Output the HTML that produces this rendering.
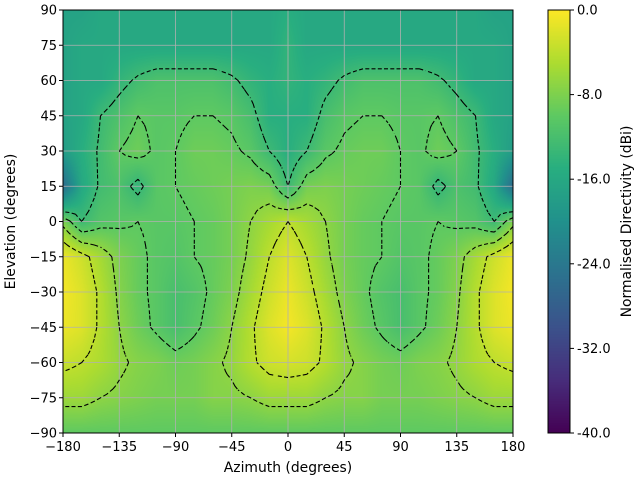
<!DOCTYPE html>
<html><head><meta charset="utf-8"><style>
body{margin:0;background:#fff;font-family:"DejaVu Sans","Liberation Sans",sans-serif}
#wrap{position:relative;width:640px;height:480px}
canvas,svg{position:absolute;left:0;top:0}
</style></head><body>
<div id="wrap">
<canvas id="heat" width="640" height="480"></canvas>
<svg id="ax" width="640" height="480"></svg>
</div>
<script>
// elevation rows (90 .. -90 step 15), azimuth |az| columns 0..180 step 15 (mirrored for negative az)
const elevations=[90,75,60,45,30,15,0,-15,-30,-45,-60,-75,-90];
const absAzimuths=[0,15,30,45,60,75,90,105,120,135,150,165,180];
const row90=[-15,-16,-16,-16,-16,-16,-16,-16,-16,-16,-16,-17,-17];
const row75=[-14,-16,-16,-16,-16,-16,-16,-16,-16,-16,-16,-16,-17];
const row60=[-14,-15,-14,-12.5,-11.5,-11.5,-11.5,-11.5,-12.5,-14,-16,-16,-17];
const row45=[-15,-15,-12,-10.5,-10,-10,-10.5,-10.5,-10,-11.5,-13,-16,-17];
const row30=[-15,-13,-10.5,-9.5,-9,-9,-10,-10.5,-9,-10,-12.5,-15,-18];
const row15=[-13,-8.5,-8,-8.5,-9,-9.5,-10,-10.5,-14,-11.5,-12.5,-16,-26];
const row0=[-4,-5.5,-7,-8.5,-9.5,-10,-10.5,-10.5,-10,-10.5,-11,-13,-8];
const rowM15=[-2,-4,-6.5,-8.5,-9.5,-10,-11,-10.5,-9.5,-8,-5.5,-3,-1];
const rowM30=[-1,-3,-5.5,-8,-9.5,-11,-12,-10.5,-9.5,-7.5,-4.5,-2,-0.5];
const rowM45=[-0.5,-2,-4.5,-7,-9,-10.5,-12,-10.5,-9,-7,-4.5,-2,-1];
const rowM60=[-2.5,-3,-4.5,-6.5,-7.5,-8.5,-9,-8,-7.5,-6.5,-5,-4,-3.3];
const rowM75=[-6,-6,-7,-7.5,-7.5,-8.5,-8.5,-8.5,-8,-7.5,-7,-6,-6];
const rowM90=[-10,-10,-10,-10,-10,-10,-10,-10,-10,-10,-10,-10,-10];
const halfRows=[row90,row75,row60,row45,row30,row15,row0,rowM15,rowM30,rowM45,rowM60,rowM75,rowM90];
const contourLevels=[-13,-10,-7,-4];
const xTicks=[-180,-135,-90,-45,0,45,90,135,180];
const yTicks=[-90,-75,-60,-45,-30,-15,0,15,30,45,60,75,90];
const cbTicks=[0,-8,-16,-24,-32,-40];

const X0=63,X1=513,Y0=10,Y1=433,CBX=548,CBW=22;
const vMin=-40,vMax=0;
const xs=a=>X0+(a+180)/360*(X1-X0);
const ys=e=>Y0+(90-e)/180*(Y1-Y0);
const cbY=v=>Y0+(vMax-v)/(vMax-vMin)*(Y1-Y0);

const az=[];for(let i=absAzimuths.length-1;i>0;i--)az.push(-absAzimuths[i]);for(const a of absAzimuths)az.push(a);
const grid=halfRows.map(r=>{const o=[];for(let i=r.length-1;i>0;i--)o.push(r[i]);for(const v of r)o.push(v);return o;});

const vir=[[68,1,84],[71,45,123],[59,82,139],[44,114,142],[33,145,140],[40,174,128],[94,201,98],[173,220,48],[253,231,37]];
function cmap(v){let t=(v-vMin)/(vMax-vMin);t=Math.max(0,Math.min(1,t))*8;const i=Math.min(7,Math.floor(t)),f=t-i;
 return vir[i].map((c,k)=>Math.round(c+(vir[i+1][k]-c)*f));}
function sample(a,e){
 let fi=(a-az[0])/15,fj=(90-e)/15;fi=Math.max(0,Math.min(az.length-1.0001,fi));fj=Math.max(0,Math.min(elevations.length-1.0001,fj));
 const i=Math.floor(fi),j=Math.floor(fj),u=fi-i,w=fj-j;
 return grid[j][i]*(1-u)*(1-w)+grid[j][i+1]*u*(1-w)+grid[j+1][i]*(1-u)*w+grid[j+1][i+1]*u*w;}

const cv=document.getElementById('heat'),ctx=cv.getContext('2d');
const img=ctx.createImageData(X1-X0,Y1-Y0);
for(let py=0;py<Y1-Y0;py++)for(let px=0;px<X1-X0;px++){
 const a=-180+(px+0.5)/(X1-X0)*360,e=90-(py+0.5)/(Y1-Y0)*180;const c=cmap(sample(a,e));const k=(py*(X1-X0)+px)*4;
 img.data[k]=c[0];img.data[k+1]=c[1];img.data[k+2]=c[2];img.data[k+3]=255;}
ctx.putImageData(img,X0,Y0);
for(let py=Y0;py<Y1;py++){const v=vMax-(py-Y0+0.5)/(Y1-Y0)*(vMax-vMin);const c=cmap(v);ctx.fillStyle=`rgb(${c})`;ctx.fillRect(CBX,py,CBW,1);}

const NS='http://www.w3.org/2000/svg',svg=document.getElementById('ax');
function mk(t,at,p){const e=document.createElementNS(NS,t);for(const k in at)e.setAttribute(k,at[k]);(p||svg).appendChild(e);return e;}
for(const t of xTicks){const l=mk('line',{x1:xs(t),x2:xs(t),y1:Y0,y2:Y1,stroke:'#b0b0b0','stroke-width':0.8});
 
 }
for(const t of yTicks){const l=mk('line',{x1:X0,x2:X1,y1:ys(t),y2:ys(t),stroke:'#b0b0b0','stroke-width':0.8});
 
 }
const cg=mk('g',{fill:'none',stroke:'#000','stroke-width':1.1,'stroke-dasharray':'4,2.5'});


const st=5,NA=360/st,NE=180/st;
const F=[];for(let j=0;j<=NE;j++){F.push([]);for(let i=0;i<=NA;i++)F[j].push(sample(-180+i*st,90-j*st));}
for(const L of contourLevels){let d='';
 for(let j=0;j<NE;j++)for(let i=0;i<NA;i++){
  const p=[[i,j],[i+1,j],[i+1,j+1],[i,j+1]];const v=p.map(q=>F[q[1]][q[0]]);const pts=[];
  for(let k=0;k<4;k++){const a=v[k],b=v[(k+1)%4];if((a<L)!==(b<L)){const f=(L-a)/(b-a);const A=p[k],B=p[(k+1)%4];
   pts.push([xs(-180+(A[0]+(B[0]-A[0])*f)*st),ys(90-(A[1]+(B[1]-A[1])*f)*st)]);}}
  for(let k=0;k+1<pts.length;k+=2)d+=`M${pts[k][0].toFixed(1)},${pts[k][1].toFixed(1)}L${pts[k+1][0].toFixed(1)},${pts[k+1][1].toFixed(1)}`;}
 const pa=mk('path',{d},cg);
 
 }
const fr=mk('rect',{x:X0,y:Y0,width:X1-X0,height:Y1-Y0,fill:'none',stroke:'#000','stroke-width':1});


const cf=mk('rect',{x:CBX,y:Y0,width:CBW,height:Y1-Y0,fill:'none',stroke:'#000','stroke-width':1});


const ts={'font-size':13.9,fill:'#000','font-family':'DejaVu Sans, Liberation Sans, sans-serif'};
const tsT={'font-size':13,fill:'#000','font-family':'DejaVu Sans, Liberation Sans, sans-serif'};
for(const t of xTicks){mk('line',{x1:xs(t),x2:xs(t),y1:Y1,y2:Y1+4,stroke:'#000'});
 const tx=mk('text',Object.assign({x:xs(t),y:Y1+18,'text-anchor':'middle'},tsT));tx.textContent=t<0?'\u2212'+(-t):t;
 
 }
for(const t of yTicks){mk('line',{x1:X0-4,x2:X0,y1:ys(t),y2:ys(t),stroke:'#000'});
 const tx=mk('text',Object.assign({x:X0-6,y:ys(t)+4.5,'text-anchor':'end'},tsT));tx.textContent=t<0?'\u2212'+(-t):t;
 
 }
for(const t of cbTicks){mk('line',{x1:CBX+CBW,x2:CBX+CBW+4,y1:cbY(t),y2:cbY(t),stroke:'#000'});
 const tx=mk('text',Object.assign({x:CBX+CBW+7,y:cbY(t)+4.5},tsT));tx.textContent=t.toFixed(1);
 
 }
const xl=mk('text',Object.assign({x:(X0+X1)/2,y:472,'text-anchor':'middle'},ts));xl.textContent='Azimuth (degrees)';


const yl=mk('text',Object.assign({x:0,y:0,'text-anchor':'middle',transform:`translate(15,${(Y0+Y1)/2}) rotate(-90)`},ts));yl.textContent='Elevation (degrees)';


const cl=mk('text',Object.assign({x:0,y:0,'text-anchor':'middle',transform:`translate(631,${(Y0+Y1)/2}) rotate(-90)`},ts));cl.textContent='Normalised Directivity (dBi)';


</script>
</body></html>
